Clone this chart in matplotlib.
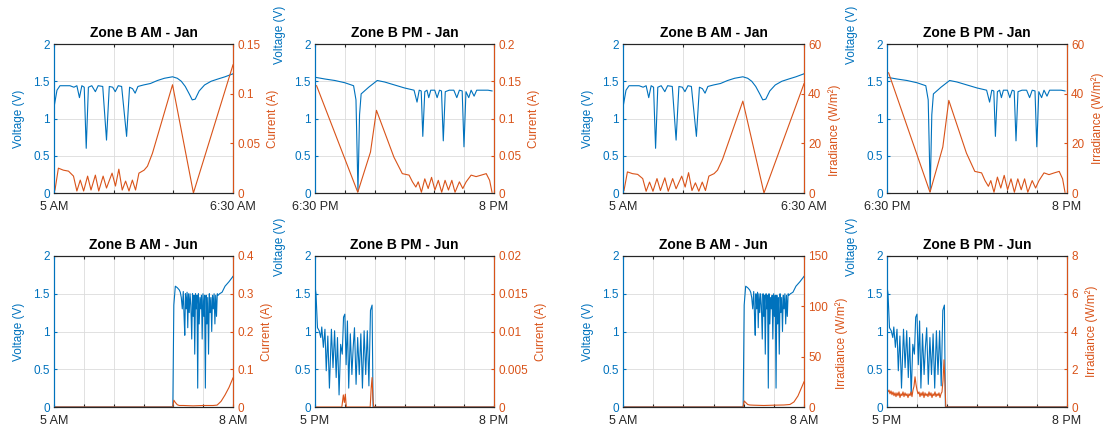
import matplotlib
matplotlib.use("Agg")
import matplotlib.pyplot as plt

plt.rcParams.update({'font.family': 'Liberation Sans', 'font.size': 8})

BLUE = '#0072BD'
ORANGE = '#D95319'

# ---- January, morning (minutes after 5:00 AM)
am_jan_vt = [0, 1.5, 3, 8, 10, 11.5, 12.8, 14, 15.2, 16.2, 17.3, 19, 20.8, 22.2, 24.5,
             26.4, 27.8, 29.5, 30.8, 32.3, 34, 36.5, 38, 39.5, 40.8, 42.2, 45, 48.5,
             52, 55.5, 59.6, 62, 64, 66, 68, 69.5, 71, 73, 75.7, 79, 82.4, 86, 90]
am_jan_v = [1.15, 1.38, 1.44, 1.44, 1.42, 1.44, 1.28, 1.44, 1.42, 0.60, 1.42, 1.44, 1.36,
            1.44, 1.43, 0.71, 1.43, 1.42, 1.36, 1.44, 1.43, 0.76, 1.42, 1.40, 1.34, 1.43,
            1.45, 1.47, 1.51, 1.54, 1.56, 1.54, 1.50, 1.43, 1.33, 1.25, 1.26, 1.37, 1.45,
            1.50, 1.53, 1.56, 1.60]
am_jan_t = [0.5, 2.2, 4.7, 7.3, 9.8, 11.5, 13.2, 14.9, 16.9, 18.6, 20.8, 22.5, 24.7, 26.4,
            29.2, 30.9, 32.6, 34.3, 36.0, 37.7, 39.4, 41.0, 42.7, 45.3, 47.0, 49.5, 59.6,
            70.1, 90.0]
am_jan_i = [0.003, 0.025, 0.023, 0.022, 0.017, 0.002, 0.013, 0.002, 0.017, 0.003, 0.018,
            0.002, 0.017, 0.005, 0.020, 0.007, 0.024, 0.003, 0.012, 0.002, 0.013, 0.003,
            0.020, 0.023, 0.027, 0.040, 0.109, 0.000, 0.129]
am_jan_irr = [1.0, 8.5, 7.8, 7.5, 5.8, 0.7, 4.4, 0.7, 5.8, 1.0, 6.1, 0.7, 5.8, 1.7, 6.8,
              2.4, 8.2, 1.0, 4.1, 0.7, 4.4, 1.0, 6.8, 7.8, 9.2, 13.6, 37.0, 0.0, 44.0]

# ---- January, evening (minutes after 6:30 PM)
pm_jan_vt = [0.8, 5, 10, 15, 19.4, 20.6, 21.6, 22.4, 23.2, 27, 31.3, 35, 40, 45, 49.8,
             51.3, 52.4, 53.4, 54.2, 55.2, 56.3, 57.2, 58.2, 60.2, 61.4, 62.6, 63.6, 64.5,
             65.5, 67.5, 69.8, 71.3, 72.6, 74.0, 74.9, 75.9, 77.3, 78.5, 80.0, 81.3, 84,
             87, 89]
pm_jan_v = [1.55, 1.53, 1.51, 1.48, 1.44, 1.25, 0.02, 1.05, 1.33, 1.42, 1.51, 1.49, 1.45,
            1.41, 1.38, 1.22, 1.38, 1.37, 0.76, 1.36, 1.38, 1.28, 1.38, 1.38, 1.28, 1.38,
            1.37, 0.70, 1.36, 1.38, 1.38, 1.28, 1.38, 1.37, 0.62, 1.36, 1.28, 1.38, 1.30,
            1.38, 1.38, 1.38, 1.37]
pm_jan_t = [0.8, 21.5, 27.9, 30.9, 39.7, 43.9, 47.3, 49.0, 50.7, 51.9, 53.5, 55.2, 56.9,
            58.6, 60.3, 62.0, 63.7, 65.4, 67.1, 68.8, 70.4, 72.6, 74.3, 76.0, 78.5, 81.0,
            83.6, 86.1, 87.8, 89.0]
pm_jan_i = [0.144, 0.001, 0.055, 0.111, 0.048, 0.026, 0.024, 0.015, 0.008, 0.015, 0.001,
            0.019, 0.006, 0.021, 0.004, 0.017, 0.001, 0.017, 0.004, 0.017, 0.001, 0.015,
            0.006, 0.015, 0.024, 0.022, 0.024, 0.026, 0.017, 0.001]
pm_jan_irr = [48.4, 0.3, 18.5, 37.3, 16.1, 8.7, 8.1, 5.0, 2.7, 5.0, 0.3, 6.4, 2.0, 7.1,
              1.3, 5.7, 0.3, 5.7, 1.3, 5.7, 0.3, 5.0, 2.0, 5.0, 8.1, 7.4, 8.1, 8.7, 5.7, 0.3]

# ---- June, morning (minutes after 5:00 AM)
am_jun_vt = [0, 119.5, 120.5, 122, 124, 126, 127, 128, 129, 130, 130.8, 131.5, 132.2, 133,
             133.8, 134.5, 135.2, 136, 136.8, 137.6, 138.5, 139.3, 140, 140.8, 141.5,
             142.3, 143, 143.8, 144.5, 145.2, 146, 146.8, 147.6, 148.3, 149, 149.8, 150.6,
             151.4, 152.2, 153, 153.8, 154.6, 155.4, 156.2, 157, 157.8, 158.6, 159.4,
             160.2, 161, 161.8, 162.6, 163.4, 164.2, 165, 166.5, 169, 172, 176, 180]
am_jun_v = [0, 0, 1.35, 1.6, 1.58, 1.55, 1.52, 1.45, 1.3, 1.53, 1.2, 0.95, 1.5, 1.3, 1.52,
            1.05, 1.5, 1.25, 1.5, 1.35, 0.9, 1.5, 1.2, 1.48, 0.7, 1.5, 1.3, 1.48, 0.25, 1.5,
            1.1, 1.45, 1.3, 1.48, 0.9, 1.5, 1.2, 1.48, 0.25, 1.48, 1.1, 1.45, 0.7, 1.5,
            1.25, 1.45, 1.0, 1.48, 1.3, 1.5, 1.1, 1.48, 1.2, 1.5, 1.48, 1.5, 1.52, 1.6,
            1.66, 1.73]
am_jun_it = [0, 119.5, 120.5, 122, 124, 126, 130, 140, 150, 160, 164, 168, 172, 176, 180]
am_jun_i = [0, 0, 0.018, 0.012, 0.006, 0.004, 0.004, 0.003, 0.004, 0.004, 0.005, 0.015,
            0.032, 0.052, 0.077]
am_jun_gt = [0, 119.5, 120.5, 122, 124, 126, 130, 140, 150, 160, 166, 170, 174, 177, 180]
am_jun_irr = [0, 0, 6, 4.5, 2.5, 2, 1.8, 1.5, 1.8, 2, 2.5, 5, 11, 18, 25]

# ---- June, evening (minutes after 5:00 PM)
pm_jun_vt = [0, 1.0, 2.5, 4.2, 5.8, 6.8, 8.4, 10.0, 11.3, 12.9, 14.5, 16.5, 18.1, 19.7,
             21.3, 22.6, 24.2, 25.8, 27.4, 28.7, 30.0, 31.3, 32.6, 33.9, 35.5, 37.1, 38.4,
             39.7, 41.3, 42.9, 44.5, 46.1, 47.7, 49.4, 51.0, 52.6, 54.2, 55.8, 57.4, 58.4,
             180]
pm_jun_v = [1.6, 1.5, 1.05, 1.01, 0.92, 1.06, 0.79, 1.03, 0.48, 0.94, 0.25, 1.03, 0.52,
            1.01, 0.39, 0.92, 0.16, 0.83, 0.70, 1.19, 1.23, 0.56, 1.14, 0.25, 0.97, 0.43,
            0.79, 1.05, 0.30, 0.92, 0.43, 0.97, 0.25, 1.01, 0.43, 1.01, 0.28, 1.28, 1.35,
            0.0, 0.0]
pm_jun_it = [0, 27, 28.5, 29.5, 30.5, 31.5, 55.5, 56.5, 57.4, 58.2, 59, 180]
pm_jun_i = [0, 0, 0.0016, 0.0006, 0.0017, 0, 0, 0.0025, 0.0039, 0.0012, 0, 0]
pm_jun_gt = [0, 1, 2, 3, 4, 5, 6, 7, 8, 9, 10, 11, 12, 13, 14, 15, 16, 17, 18, 19, 20,
             21, 22, 23, 24, 25, 26, 27, 28, 29, 30, 31, 32, 33, 34, 35, 36, 37, 38, 39,
             40, 41, 42, 43, 44, 45, 46, 47, 48, 49, 50, 51, 52, 53, 54, 55, 56, 57, 58,
             58.8, 180]
pm_jun_irr = [0.95, 0.8, 0.9, 0.7, 0.85, 0.65, 0.8, 0.6, 0.75, 0.55, 0.75, 0.6, 0.8, 0.5,
              0.7, 0.6, 0.8, 0.55, 0.75, 0.6, 0.7, 0.5, 0.7, 0.6, 0.8, 0.55, 0.9, 1.1,
              1.6, 1.2, 0.9, 0.7, 0.8, 0.55, 0.75, 0.6, 0.8, 0.5, 0.75, 0.6, 0.7, 0.55,
              0.8, 0.6, 0.75, 0.5, 0.7, 0.6, 0.8, 0.55, 0.7, 0.6, 0.75, 0.5, 0.7, 0.8,
              1.4, 2.5, 1.2, 0.0, 0.0]

CUR = 'Current (A)'
IRR = 'Irradiance (W/m²)'
panels = [
    # top row
    dict(title='Zone B AM - Jan', vt=am_jan_vt, v=am_jan_v, rt=am_jan_t, r=am_jan_i,
         rlim=0.15, rticks=[0, 0.05, 0.1, 0.15], rlabel=CUR,
         span=90, step=30, xl=('5 AM', '6:30 AM')),
    dict(title='Zone B PM - Jan', vt=pm_jan_vt, v=pm_jan_v, rt=pm_jan_t, r=pm_jan_i,
         rlim=0.2, rticks=[0, 0.05, 0.1, 0.15, 0.2], rlabel=CUR,
         span=90, step=15, xl=('6:30 PM', '8 PM')),
    dict(title='Zone B AM - Jan', vt=am_jan_vt, v=am_jan_v, rt=am_jan_t, r=am_jan_irr,
         rlim=60, rticks=[0, 20, 40, 60], rlabel=IRR,
         span=90, step=30, xl=('5 AM', '6:30 AM')),
    dict(title='Zone B PM - Jan', vt=pm_jan_vt, v=pm_jan_v, rt=pm_jan_t, r=pm_jan_irr,
         rlim=60, rticks=[0, 20, 40, 60], rlabel=IRR,
         span=90, step=15, xl=('6:30 PM', '8 PM')),
    # bottom row
    dict(title='Zone B AM - Jun', vt=am_jun_vt, v=am_jun_v, rt=am_jun_it, r=am_jun_i,
         rlim=0.4, rticks=[0, 0.1, 0.2, 0.3, 0.4], rlabel=CUR,
         span=180, step=30, xl=('5 AM', '8 AM')),
    dict(title='Zone B PM - Jun', vt=pm_jun_vt, v=pm_jun_v, rt=pm_jun_it, r=pm_jun_i,
         rlim=0.02, rticks=[0, 0.005, 0.01, 0.015, 0.02], rlabel=CUR,
         span=180, step=30, xl=('5 PM', '8 PM')),
    dict(title='Zone B AM - Jun', vt=am_jun_vt, v=am_jun_v, rt=am_jun_gt, r=am_jun_irr,
         rlim=150, rticks=[0, 50, 100, 150], rlabel=IRR,
         span=180, step=30, xl=('5 AM', '8 AM')),
    dict(title='Zone B PM - Jun', vt=pm_jun_vt, v=pm_jun_v, rt=pm_jun_gt, r=pm_jun_irr,
         rlim=8, rticks=[0, 2, 4, 6, 8], rlabel=IRR,
         span=180, step=30, xl=('5 PM', '8 PM')),
]

W, H = 1104, 438
fig = plt.figure(figsize=(W / 100, H / 100), dpi=100)
col_x = [54, 315, 623, 887]
col_w = [179, 179, 181, 180]
rows = [(44, 193), (256, 407)]

for k, p in enumerate(panels):
    x0, w = col_x[k % 4], col_w[k % 4]
    y0, y1 = rows[k // 4]
    ax = fig.add_axes([x0 / W, 1 - y1 / H, w / W, (y1 - y0) / H])
    ax.plot(p['vt'], p['v'], color=BLUE, lw=0.8)
    ax.set_xlim(0, p['span'])
    ax.set_ylim(0, 2)
    ax.set_yticks([0, 0.5, 1, 1.5, 2])
    ax.set_yticklabels(['0', '0.5', '1', '1.5', '2'])
    xt = list(range(0, p['span'] + 1, p['step']))
    ax.set_xticks(xt)
    ax.set_xticklabels([p['xl'][0]] + [''] * (len(xt) - 2) + [p['xl'][1]])
    ax.grid(True, color='#dcdcdc', lw=0.6)
    ax.set_axisbelow(True)
    # the inner panel of each pair has its voltage label lifted clear of its neighbour
    vy = 1.06 if k % 2 == 1 else 0.5
    ax.set_ylabel('Voltage (V)', color=BLUE, fontsize=8.5, labelpad=6, y=vy)
    ax.set_title(p['title'], fontweight='bold', fontsize=10, pad=5)
    ax.tick_params(axis='y', colors=BLUE, direction='in', length=2.5, pad=3, labelsize=8.5)
    ax.tick_params(axis='x', colors='#262626', direction='in', length=2.5, pad=6,
                   labelsize=9, top=True)
    for s in ('top', 'bottom'):
        ax.spines[s].set_color('#262626')
    ax.spines['left'].set_color(BLUE)

    rx = ax.twinx()
    rx.plot(p['rt'], p['r'], color=ORANGE, lw=0.8)
    rx.set_ylim(0, p['rlim'])
    rx.set_yticks(p['rticks'])
    rx.set_yticklabels(['%g' % v for v in p['rticks']])
    ry = 0.5
    if k % 2 == 0 and p['rlabel'] == IRR:
        ry = 0.42
    rx.set_ylabel(p['rlabel'], color=ORANGE, fontsize=8.5, labelpad=5, y=ry)
    rx.tick_params(axis='y', colors=ORANGE, direction='in', length=2.5, pad=3, labelsize=8.5)
    rx.spines['right'].set_color(ORANGE)
    rx.spines['left'].set_color(BLUE)
    for s in ('top', 'bottom'):
        rx.spines[s].set_color('#262626')
    rx.set_xlim(0, p['span'])

fig.savefig('out.png', dpi=100, facecolor='white')
